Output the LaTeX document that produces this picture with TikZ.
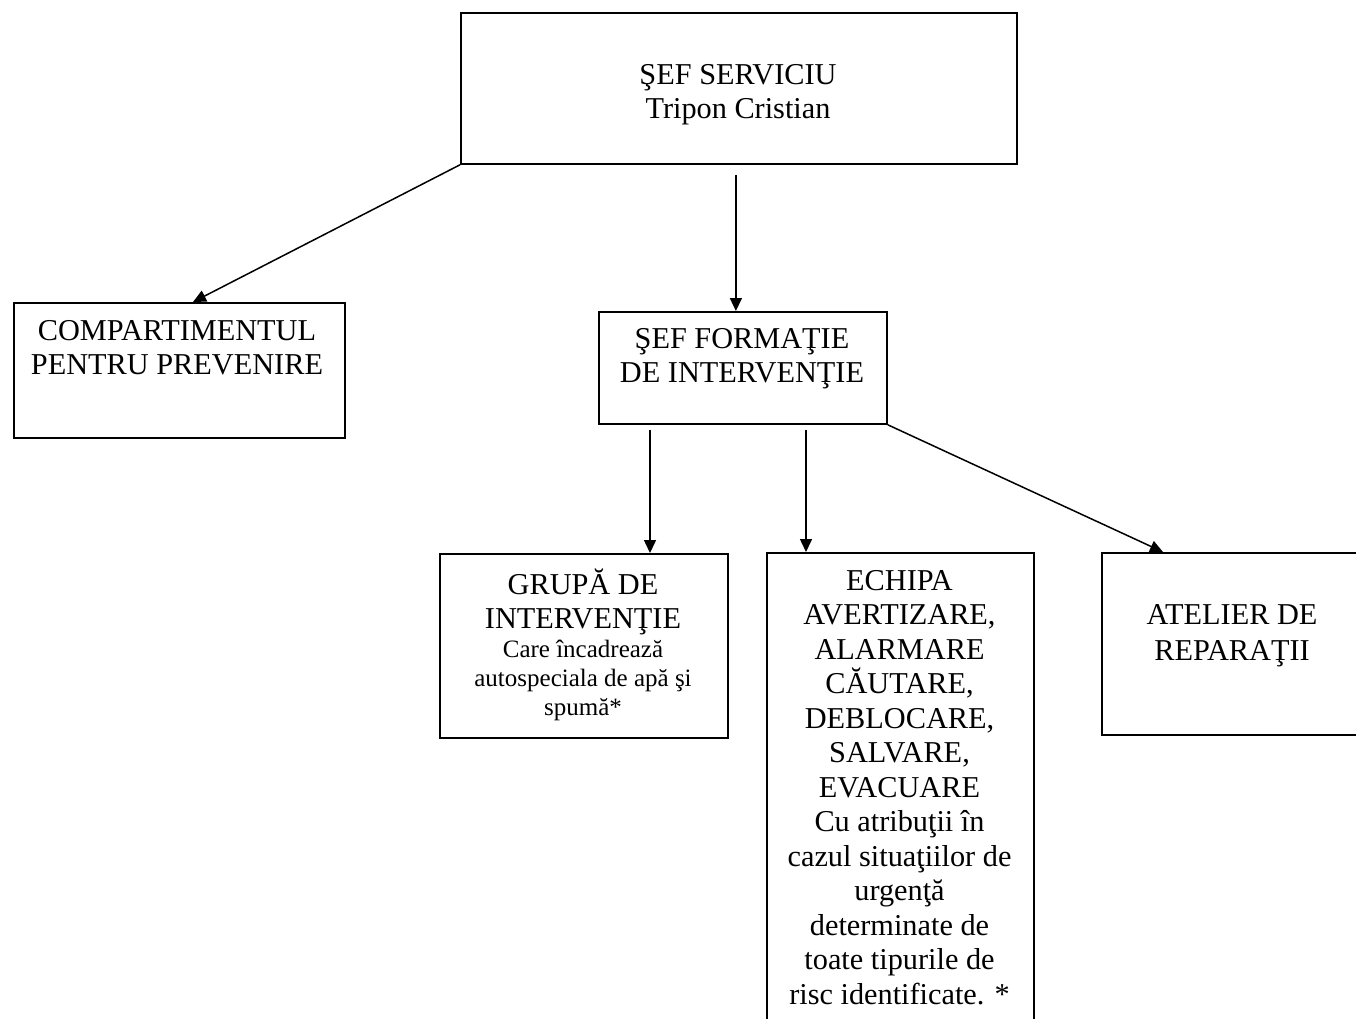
\documentclass[tikz,border=0pt]{standalone}
\usepackage{fontspec}
\setmainfont{Liberation Serif}
\usetikzlibrary{arrows.meta,calc}
\begin{document}
\begin{tikzpicture}[x=1pt,y=-1pt,
  box/.style={draw,line width=1.8pt,inner sep=0pt,anchor=north west},
  txt/.style={inner sep=0pt,anchor=north,align=center,font=\fontsize{30.3}{34}\selectfont},
  smalltxt/.style={inner sep=0pt,anchor=north,align=center,font=\fontsize{25}{29}\selectfont},
  arr/.style={line width=1.5pt,-{Triangle[length=13pt,width=12pt]}}]
\useasboundingbox[fill=white] (0,0) rectangle (1356,1019);
% boxes
\node[box,minimum width=556pt,minimum height=151pt] (top) at (460,12) {};
\node[box,minimum width=331pt,minimum height=135pt] (comp) at (13,302) {};
\node[box,minimum width=288pt,minimum height=112pt] (sfi) at (598,311) {};
\node[box,minimum width=288pt,minimum height=184pt] (grupa) at (439,553) {};
\node[box,minimum width=267pt,minimum height=500pt] (echipa) at (766,552) {};
\node[box,minimum width=300pt,minimum height=182pt] (atelier) at (1101,552) {};
% texts
\node[txt] (ttop) at (738,60.2) {\strut ŞEF SERVICIU\\Tripon Cristian};
\node[txt] (tcomp) at (177,316.2) {\strut COMPARTIMENTUL\\PENTRU PREVENIRE};
\node[txt] (tsfi) at (742,324.2) {\strut ŞEF FORMAŢIE\\DE INTERVENŢIE};
\node[txt] (tgrupa) at (583,568.2) {\strut GRUPĂ DE\\INTERVENŢIE};
\node[smalltxt] (tgrupa2) at (583,636.7) {\strut Care încadrează\\autospeciala de apă şi\\spumă*};
\node[txt,font=\fontsize{30.3}{34.5}\selectfont] (techipa) at (899.5,565.85) {\strut ECHIPA\\AVERTIZARE,\\ALARMARE\\CĂUTARE,\\DEBLOCARE,\\SALVARE,\\EVACUARE\\Cu atribuţii în\\cazul situaţiilor de\\urgenţă\\determinate de\\toate tipurile de\\risc identificate. *};
\node[txt,font=\fontsize{30.3}{36}\selectfont] (tatelier) at (1232,598.8) {\strut ATELIER DE\\REPARAŢII};
% connectors
\draw[arr] (top.south west) -- ($(comp.north west)+(180,0)$);
\draw[arr] ([xshift=-3pt,yshift=-10pt]top.south) -- ([xshift=-3pt]top.south |- sfi.north);
\draw[arr] ($(sfi.south west)+(52,5)$) coordinate (a3s) -- (a3s |- grupa.north);
\draw[arr] ($(sfi.south west)+(208,5)$) coordinate (a4s) -- (a4s |- echipa.north);
\draw[arr] (sfi.south east) -- ($(atelier.north west)+(62,0)$);
\end{tikzpicture}
\end{document}
